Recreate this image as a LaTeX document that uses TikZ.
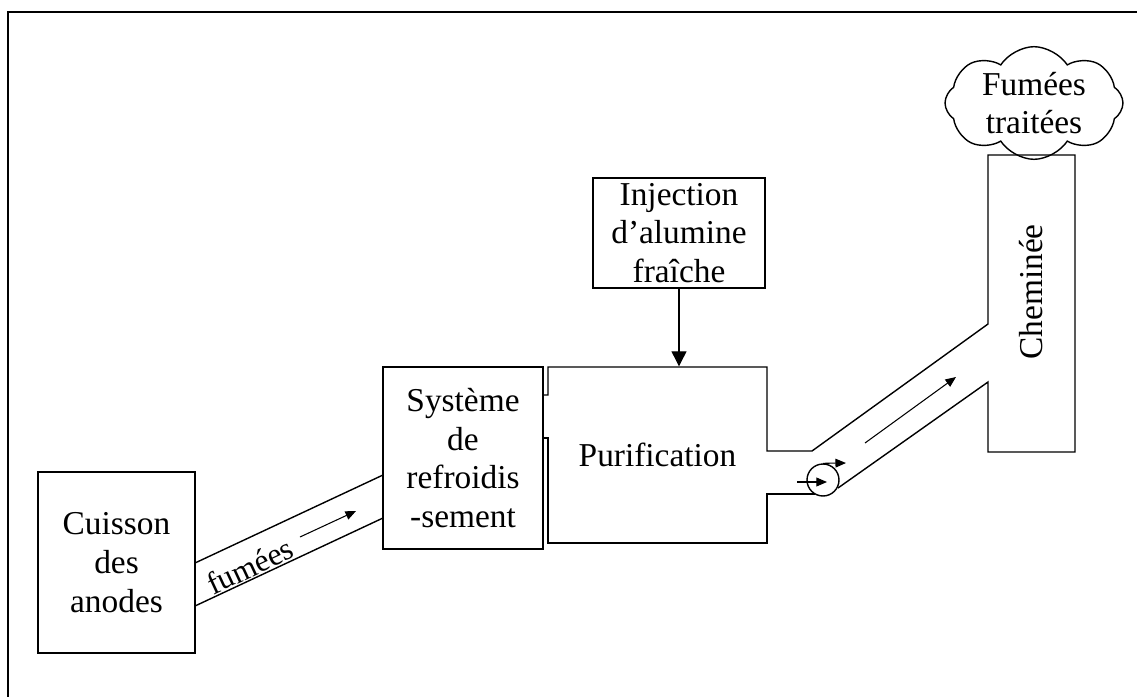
\documentclass[tikz,border=0pt]{standalone}
\usepackage{fontspec}
\setmainfont{Liberation Serif}
\usetikzlibrary{shapes.symbols}
\usetikzlibrary{arrows.meta}

\begin{document}
\begin{tikzpicture}[x=0.02cm, y=-0.02cm, line width=0.8pt,
    bloc/.style={rectangle, align=center, inner sep=0pt, font=\fontsize{19}{22}\selectfont},
    fleche/.style={-{Triangle[length=6pt, width=5pt]}, line width=0.6pt}]
    \useasboundingbox (0,0) rectangle (1137,697);
    % cadre
    \draw[line width=1.2pt] (8,697) -- (8,12) -- (1137,12);

    \node[bloc, draw, minimum width=3.14cm, minimum height=3.62cm] (cuisson) at (116.5,562.5) {Cuisson\\des\\anodes};
    \node[bloc, draw, minimum width=3.2cm, minimum height=3.64cm] (refroid) at (463,458) {Système\\de\\refroidis\\-sement};
    \node[bloc, minimum width=4.38cm, minimum height=3.52cm] (purif) at (657.5,455) {Purification};
    \node[bloc, draw, minimum width=3.44cm, minimum height=2.2cm] (inject) at (679,233) {Injection\\d’alumine\\fraîche};
    \node[bloc, minimum width=1.74cm, minimum height=5.94cm] (chem) at (1031.5,303.5) {};
    \node[bloc, rotate=90] (chemtxt) at (1031,292) {Cheminée};
    \node[bloc, draw, cloud, cloud puffs=8, cloud puff arc=115, aspect=1.7,
          minimum width=3.56cm, minimum height=2.14cm] (fumees) at (1034,103) {Fumées\\traitées};
    \node[draw, circle, minimum size=0.64cm, inner sep=0pt] (pompe) at (823,480) {};

    % conduite fumees
    \draw (195,563) -- (383,475);
    \draw (195,606) -- (383,518);
    \node[bloc, rotate=25, font=\fontsize{18}{22}\selectfont] (fumtxt) at (250,566) {fumées};
    \coordinate (f1) at (300,537);
    \coordinate (f2) at (356,511);
    \draw[fleche] (f1) -- (f2);

    % purification + conduite + cheminee
    \draw (543,395) -- (548,395) -- (548,367) -- (767,367) -- (767,451) -- (812,451) -- (988,324)
          -- (988,155) -- (1075,155) -- (1075,452) -- (988,452) -- (988,382) -- (838,488);
    \draw (815,494) -- (767,494) -- (767,543) -- (548,543) -- (548,438) -- (543,438);
    \coordinate (c1) at (865,443);
    \coordinate (c2) at (956,377);
    \draw[fleche] (c1) -- (c2);

    % pompe
    \coordinate (p1) at (797,482);
    \coordinate (p2) at (827,482);
    \coordinate (p3) at (846,463);
    \draw[fleche] (p1) -- (p2);
    \draw[fleche] (pompe.north) -- (p3);

    \draw[-{Triangle[length=0.3cm, width=0.3cm]}, line width=0.6pt] (inject.south) -- (inject.south |- purif.north);
\end{tikzpicture}
\end{document}
